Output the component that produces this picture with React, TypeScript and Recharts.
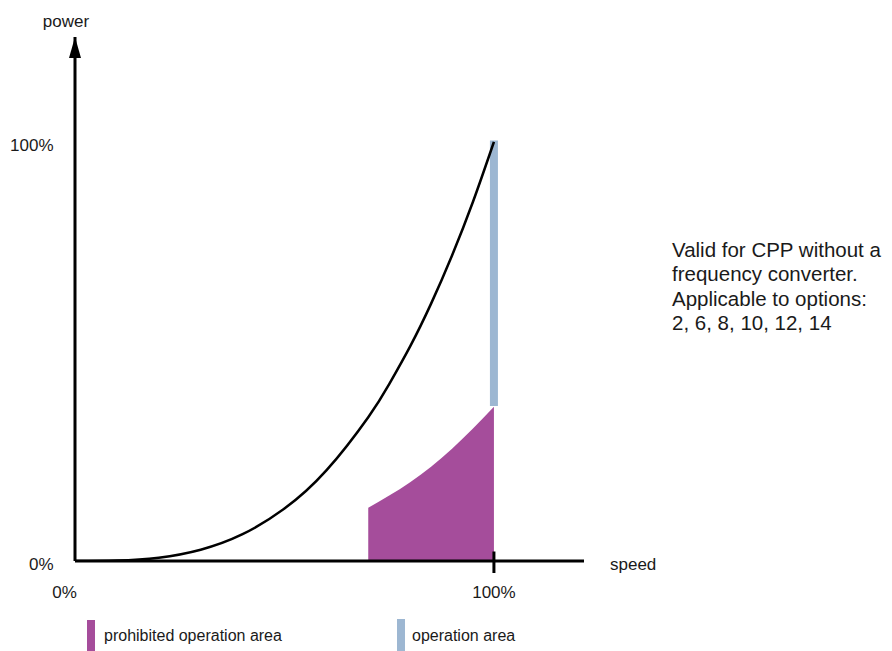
import { ComposedChart, Line, Area, XAxis, YAxis, ReferenceDot } from 'recharts';

// speed / power, as fractions of 100%
const speed = [0, 0.1, 0.2, 0.3, 0.4, 0.5, 0.6, 0.7, 0.75, 0.8, 0.85, 0.9, 0.95, 1.0];
const power = [0, 0.001, 0.008, 0.027, 0.064, 0.125, 0.216, 0.343, 0.422, 0.512, 0.614, 0.729, 0.857, 1.0];

const prohibitedSpeed = [0.7, 0.75, 0.8, 0.85, 0.9, 0.95, 1.0];
const prohibitedPower = [0.127, 0.156, 0.188, 0.225, 0.268, 0.316, 0.368];

const operationSpeed = [1, 1];
const operationPower = [0.37, 1.003];

const xTicks = [0, 1];
const yTicks = [0, 1];
const tickLabels = ['0%', '100%'];

const PURPLE = '#a54d9b';
const BLUE = '#9db7d2';
const INK = '#1a1a1a';
const FONT = '"Liberation Sans", Arial, sans-serif';

const curveData = speed.map((s, i) => ({ speed: s, power: power[i] }));
const prohibitedData = prohibitedSpeed.map((s, i) => ({ speed: s, prohibited: prohibitedPower[i] }));
const operationData = operationSpeed.map((s, i) => ({ speed: s, operation: operationPower[i] }));

function XTick(props: any) {
  const { x, y, payload } = props;
  const isZero = payload.value === 0;
  return (
    <g>
      {!isZero && <line x1={x} x2={x} y1={y - 9.5} y2={y + 12} stroke="#000" strokeWidth={3} />}
      <text x={isZero ? x - 10.5 : x} y={y + 37} textAnchor="middle" fontSize={17} fill={INK} fontFamily={FONT}>
        {tickLabels[xTicks.indexOf(payload.value)]}
      </text>
    </g>
  );
}

function YTick(props: any) {
  const { y, payload } = props;
  return (
    <text x={53.5} y={y + 9} textAnchor="end" fontSize={17} fill={INK} fontFamily={FONT}>
      {tickLabels[yTicks.indexOf(payload.value)]}
    </text>
  );
}

function Arrow(props: any) {
  const { cx, cy } = props;
  return <polygon points={`${cx},${cy} ${cx - 6},${cy + 21} ${cx + 6},${cy + 21}`} fill="#000" />;
}

export default function App() {
  return (
    <div style={{ position: 'absolute', left: 0, top: 0, width: 892, height: 651, background: '#fff', fontFamily: FONT }}>
      <ComposedChart width={892} height={651} margin={{ top: 37, right: 308, bottom: 60, left: 0 }}>
        <XAxis
          type="number"
          dataKey="speed"
          domain={[0, 1.215]}
          ticks={xTicks}
          allowDataOverflow
          tickSize={0}
          tickMargin={0}
          tickLine={false}
          height={30}
          axisLine={{ stroke: '#000', strokeWidth: 3 }}
          tick={<XTick />}
          label={{ value: 'speed', position: 'right', offset: 26, dy: -12, fontSize: 17, fill: INK, fontFamily: FONT }}
        />
        <YAxis
          type="number"
          domain={[0, 1.25]}
          ticks={yTicks}
          allowDataOverflow
          width={75}
          tickSize={0}
          tickLine={false}
          axisLine={{ stroke: '#000', strokeWidth: 3 }}
          tick={<YTick />}
          label={{ value: 'power', position: 'top', offset: 10, dx: 28.5, fontSize: 17, fill: INK, fontFamily: FONT }}
        />
        <Area
          data={prohibitedData}
          dataKey="prohibited"
          type="natural"
          baseValue={0}
          stroke="none"
          fill={PURPLE}
          fillOpacity={1}
          isAnimationActive={false}
        />
        <Line
          data={operationData}
          dataKey="operation"
          type="linear"
          stroke={BLUE}
          strokeWidth={8}
          strokeLinecap="butt"
          dot={false}
          activeDot={false}
          isAnimationActive={false}
        />
        <Line
          data={curveData}
          dataKey="power"
          type="natural"
          stroke="#000"
          strokeWidth={2.5}
          dot={false}
          activeDot={false}
          isAnimationActive={false}
        />
        <ReferenceDot x={0} y={1.25} ifOverflow="visible" shape={<Arrow />} />
      </ComposedChart>

      <div style={{ position: 'absolute', left: 672, top: 238, fontSize: 20.5, lineHeight: '24.3px', color: INK }}>
        Valid for CPP without a<br />
        frequency converter.<br />
        Applicable to options:<br />
        2, 6, 8, 10, 12, 14
      </div>

      <div style={{ position: 'absolute', left: 87, top: 620, width: 8, height: 31, background: PURPLE }} />
      <div style={{ position: 'absolute', left: 104, top: 627, fontSize: 16, lineHeight: '18px', color: INK }}>
        prohibited operation area
      </div>
      <div style={{ position: 'absolute', left: 397, top: 619, width: 8, height: 32, background: BLUE }} />
      <div style={{ position: 'absolute', left: 412, top: 627, fontSize: 16, lineHeight: '18px', color: INK }}>
        operation area
      </div>
    </div>
  );
}
